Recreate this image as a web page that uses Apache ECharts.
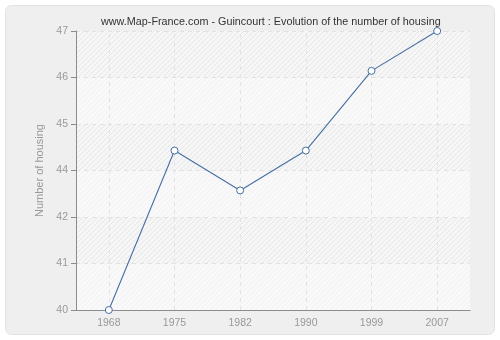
<!DOCTYPE html>
<html>
<head>
<meta charset="utf-8">
<script src="https://cdn.jsdelivr.net/npm/echarts@6/dist/echarts.min.js"></script>
<style>
html,body{margin:0;padding:0;background:#ffffff;}
#c{width:500px;height:340px;}
</style>
</head>
<body>
<div id="c"></div>
<script>
var years = ['1968', '1975', '1982', '1990', '1999', '2007'];
var housing = [40, 44, 43, 44, 46, 47];
var yMin = 40, yMax = 47, ySteps = 6;
var titleText = 'www.Map-France.com - Guincourt : Evolution of the number of housing';
var yName = 'Number of housing';

function hatch(bg, line) {
  var n = 5;
  var c = document.createElement('canvas');
  c.width = n; c.height = n;
  var g = c.getContext('2d');
  g.fillStyle = bg; g.fillRect(0, 0, n, n);
  g.strokeStyle = line; g.lineWidth = 1;
  g.beginPath();
  g.moveTo(-1, n + 1); g.lineTo(n + 1, -1);
  g.moveTo(-1, 1); g.lineTo(1, -1);
  g.moveTo(n - 1, n + 1); g.lineTo(n + 1, n - 1);
  g.stroke();
  return {image: c, repeat: 'repeat'};
}

var labelFont = 'Liberation Sans';
var chart = echarts.init(document.getElementById('c'), null, {renderer: 'canvas'});
chart.setOption({
  animation: false,
  backgroundColor: 'transparent',
  graphic: [{
    type: 'rect', z: -10, silent: true,
    shape: {x: 5.5, y: 5.5, width: 489, height: 329, r: 6},
    style: {fill: '#efefef', stroke: '#e2e2e2', lineWidth: 1}
  }],
  title: {
    text: titleText, left: 96, top: 12,
    textStyle: {fontFamily: labelFont, fontSize: 10.8, fontWeight: 'normal', color: '#333'}
  },
  grid: {left: 76, right: 30, top: 31, bottom: 30, show: true, backgroundColor: '#f8f8f8', borderWidth: 0},
  xAxis: {
    type: 'category', data: years, boundaryGap: true,
    axisLine: {lineStyle: {color: '#8c8c8c'}},
    axisTick: {alignWithLabel: true, length: 5, lineStyle: {color: '#8c8c8c'}},
    axisLabel: {color: '#999', fontFamily: labelFont, fontSize: 10.5, margin: 8},
    splitLine: {show: false}
  },
  yAxis: {
    type: 'value', min: yMin, max: yMax, interval: (yMax - yMin) / ySteps,
    name: yName, nameLocation: 'middle', nameGap: 28,
    nameTextStyle: {color: '#999', fontFamily: labelFont, fontSize: 11},
    axisLine: {show: true, lineStyle: {color: '#8c8c8c'}},
    axisTick: {show: true, length: 5, lineStyle: {color: '#8c8c8c'}},
    axisLabel: {color: '#999', fontFamily: labelFont, fontSize: 10.5, margin: 8,
      formatter: function (v) { return String(Math.round(Math.round(v * 1000) / 1000)); }},
    splitLine: {show: true, lineStyle: {color: '#e2e2e2', type: [4, 4]}},
    splitArea: {show: true, areaStyle: {color: [hatch('#f9f9f9', '#f1f1f1'), hatch('#f6f6f6', '#e6e6e6')]}}
  },
  series: [{
    type: 'line', data: housing,
    symbol: 'circle', symbolSize: 7,
    lineStyle: {color: '#466fa3', width: 1.1},
    itemStyle: {color: '#ffffff', borderColor: '#466fa3', borderWidth: 1},
    markLine: {
      silent: true, symbol: 'none', label: {show: false}, z: 1,
      lineStyle: {color: '#e2e2e2', type: [4, 4], width: 1},
      emphasis: {disabled: true},
      data: years.map(function (y) { return {xAxis: y}; })
    },
    z: 5
  }]
});
</script>
</body>
</html>
